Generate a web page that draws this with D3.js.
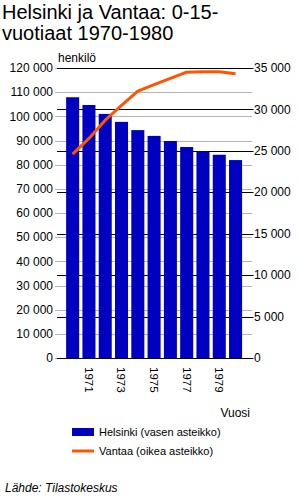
<!DOCTYPE html>
<html>
<head>
<meta charset="utf-8">
<script src="https://cdn.jsdelivr.net/npm/d3@7"></script>
<style>
  body { margin: 0; background: #fff; }
  text { font-family: "Liberation Sans", Arial, sans-serif; fill: #000; }
</style>
</head>
<body>
<div class="chart"></div>
<script>
var width = 300,
    height = 500;

// data
var years = ["1970", "1971", "1972", "1973", "1974", "1975", "1976", "1977", "1978", "1979", "1980"];
var helsinki = [107900, 104700, 101000, 97700, 94300, 91900, 89800, 87300, 85500, 84100, 81900];
var vantaa = [24600, 26500, 28700, 30500, 32200, 33000, 33750, 34500, 34550, 34550, 34300];
var yearLabels = ["1971", "1973", "1975", "1977", "1979"];
var leftTicks = d3.range(0, 120001, 10000);
var rightTicks = d3.range(0, 35001, 5000);

var barColor = "#0000c0",
    lineColor = "#ff5500";

var plotLeft = 57, plotRight = 252,
    plotTop = 68, plotBottom = 358;

var fmt = d3.formatLocale({decimal: ",", thousands: " ", grouping: [3], currency: ["", ""]}).format(",d");

var x = d3.scaleBand()
  .domain(years)
  .range([64.5, 243.7])
  .paddingInner(0.2)
  .paddingOuter(0.1);

var yLeft = d3.scaleLinear().domain([0, 120000]).range([plotBottom, plotTop]);
var yRight = d3.scaleLinear().domain([0, 35000]).range([plotBottom, plotTop]);

var svg = d3.select(".chart")
  .append("svg")
  .attr("width", width)
  .attr("height", height);

// title
svg.append("text")
  .attr("x", 2)
  .attr("y", 19)
  .attr("font-size", "20px")
  .text("Helsinki ja Vantaa: 0-15-");
svg.append("text")
  .attr("x", 2)
  .attr("y", 40)
  .attr("font-size", "20px")
  .text("vuotiaat 1970-1980");

svg.append("text")
  .attr("x", 58)
  .attr("y", 62)
  .attr("font-size", "12px")
  .text("henkilö");

// left scale gridlines (gray)
svg.append("g")
  .selectAll("line")
  .data(leftTicks)
  .enter()
  .append("line")
  .attr("x1", 55)
  .attr("x2", plotRight)
  .attr("y1", function(d) { return Math.round(yLeft(d)) + 0.5; })
  .attr("y2", function(d) { return Math.round(yLeft(d)) + 0.5; })
  .attr("stroke", "#b4b4b4");

// right scale gridlines (black)
svg.append("g")
  .selectAll("line")
  .data(rightTicks)
  .enter()
  .append("line")
  .attr("x1", plotLeft)
  .attr("x2", 253.5)
  .attr("y1", function(d) { return Math.round(yRight(d)) + 0.5; })
  .attr("y2", function(d) { return Math.round(yRight(d)) + 0.5; })
  .attr("stroke", "#000");

// left labels
svg.append("g")
  .selectAll("text")
  .data(leftTicks)
  .enter()
  .append("text")
  .attr("x", 53)
  .attr("y", function(d) { return yLeft(d); })
  .attr("dy", "0.35em")
  .attr("text-anchor", "end")
  .attr("font-size", "12px")
  .text(function(d) { return fmt(d); });

// right labels
svg.append("g")
  .selectAll("text")
  .data(rightTicks)
  .enter()
  .append("text")
  .attr("x", 254)
  .attr("y", function(d) { return yRight(d); })
  .attr("dy", "0.35em")
  .attr("font-size", "12px")
  .text(function(d) { return fmt(d); });

// bars
svg.append("g")
  .selectAll("rect")
  .data(helsinki)
  .enter()
  .append("rect")
  .attr("x", function(d, i) { return x(years[i]); })
  .attr("width", x.bandwidth())
  .attr("y", function(d) { return yLeft(d); })
  .attr("height", function(d) { return plotBottom - yLeft(d); })
  .attr("fill", barColor);

// line
var line = d3.line()
  .x(function(d, i) { return x(years[i]) + x.bandwidth() / 2; })
  .y(function(d) { return yRight(d); });

svg.append("path")
  .datum(vantaa)
  .attr("d", line)
  .attr("fill", "none")
  .attr("stroke", lineColor)
  .attr("stroke-width", 3)
  .attr("stroke-linejoin", "round");

// x labels, rotated
svg.append("g")
  .selectAll("text")
  .data(yearLabels)
  .enter()
  .append("text")
  .attr("transform", function(d) {
    return "translate(" + (x(d) + x.bandwidth() / 2) + ",367) rotate(90)";
  })
  .attr("dy", "0.35em")
  .attr("font-size", "11.5px")
  .text(function(d) { return d; });

svg.append("text")
  .attr("x", 250)
  .attr("y", 417)
  .attr("text-anchor", "end")
  .attr("font-size", "12px")
  .text("Vuosi");

// legend
svg.append("rect")
  .attr("x", 72)
  .attr("y", 428)
  .attr("width", 22)
  .attr("height", 8)
  .attr("fill", barColor);
svg.append("text")
  .attr("x", 99)
  .attr("y", 436)
  .attr("font-size", "11px")
  .text("Helsinki (vasen asteikko)");

svg.append("line")
  .attr("x1", 72)
  .attr("x2", 94)
  .attr("y1", 451)
  .attr("y2", 451)
  .attr("stroke", lineColor)
  .attr("stroke-width", 3);
svg.append("text")
  .attr("x", 99)
  .attr("y", 455)
  .attr("font-size", "11px")
  .text("Vantaa (oikea asteikko)");

svg.append("text")
  .attr("x", 5)
  .attr("y", 492)
  .attr("font-size", "12px")
  .attr("font-style", "italic")
  .text("Lähde: Tilastokeskus");
</script>
</body>
</html>
